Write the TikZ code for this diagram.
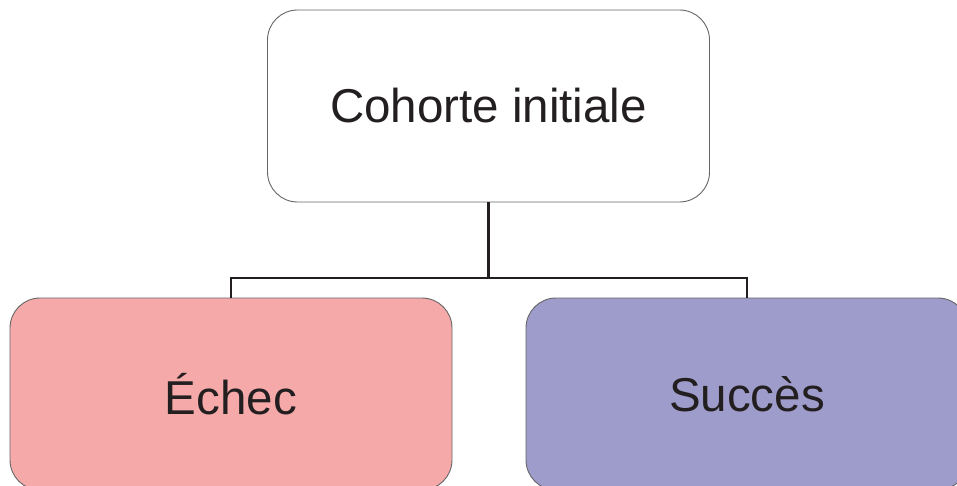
\documentclass[tikz,border=0pt]{standalone}
\usepackage{fontspec}
\setmainfont{Liberation Sans}
\definecolor{echecpink}{HTML}{F5A9A9}
\definecolor{succesblue}{HTML}{9E9CCB}
\definecolor{inkdark}{HTML}{231F20}
\tikzset{
  cohortbox/.style={draw=black!60, line width=0.9pt, rounded corners=30pt,
    minimum width=442pt, minimum height=192pt, text=inkdark,
    font=\fontsize{47.5}{57}\selectfont},
  link/.style={draw=inkdark, line width=2.4pt}
}
\begin{document}
\begin{tikzpicture}[x=1pt, y=-1pt]
\clip (0,0) rectangle (957,486);

\node[cohortbox, fill=white] (top) at (488.5, 106){Cohorte initiale};
\node[cohortbox, fill=echecpink] (echec) at (231, 394){Échec};
\node[cohortbox, fill=succesblue] (succes) at (747, 394){Succès};

\coordinate (bus) at (488.5, 278);
\draw[link] (top.south) -- (bus);
\draw[link] (echec.north) |- (bus) -| (succes.north);
\end{tikzpicture}
\end{document}
